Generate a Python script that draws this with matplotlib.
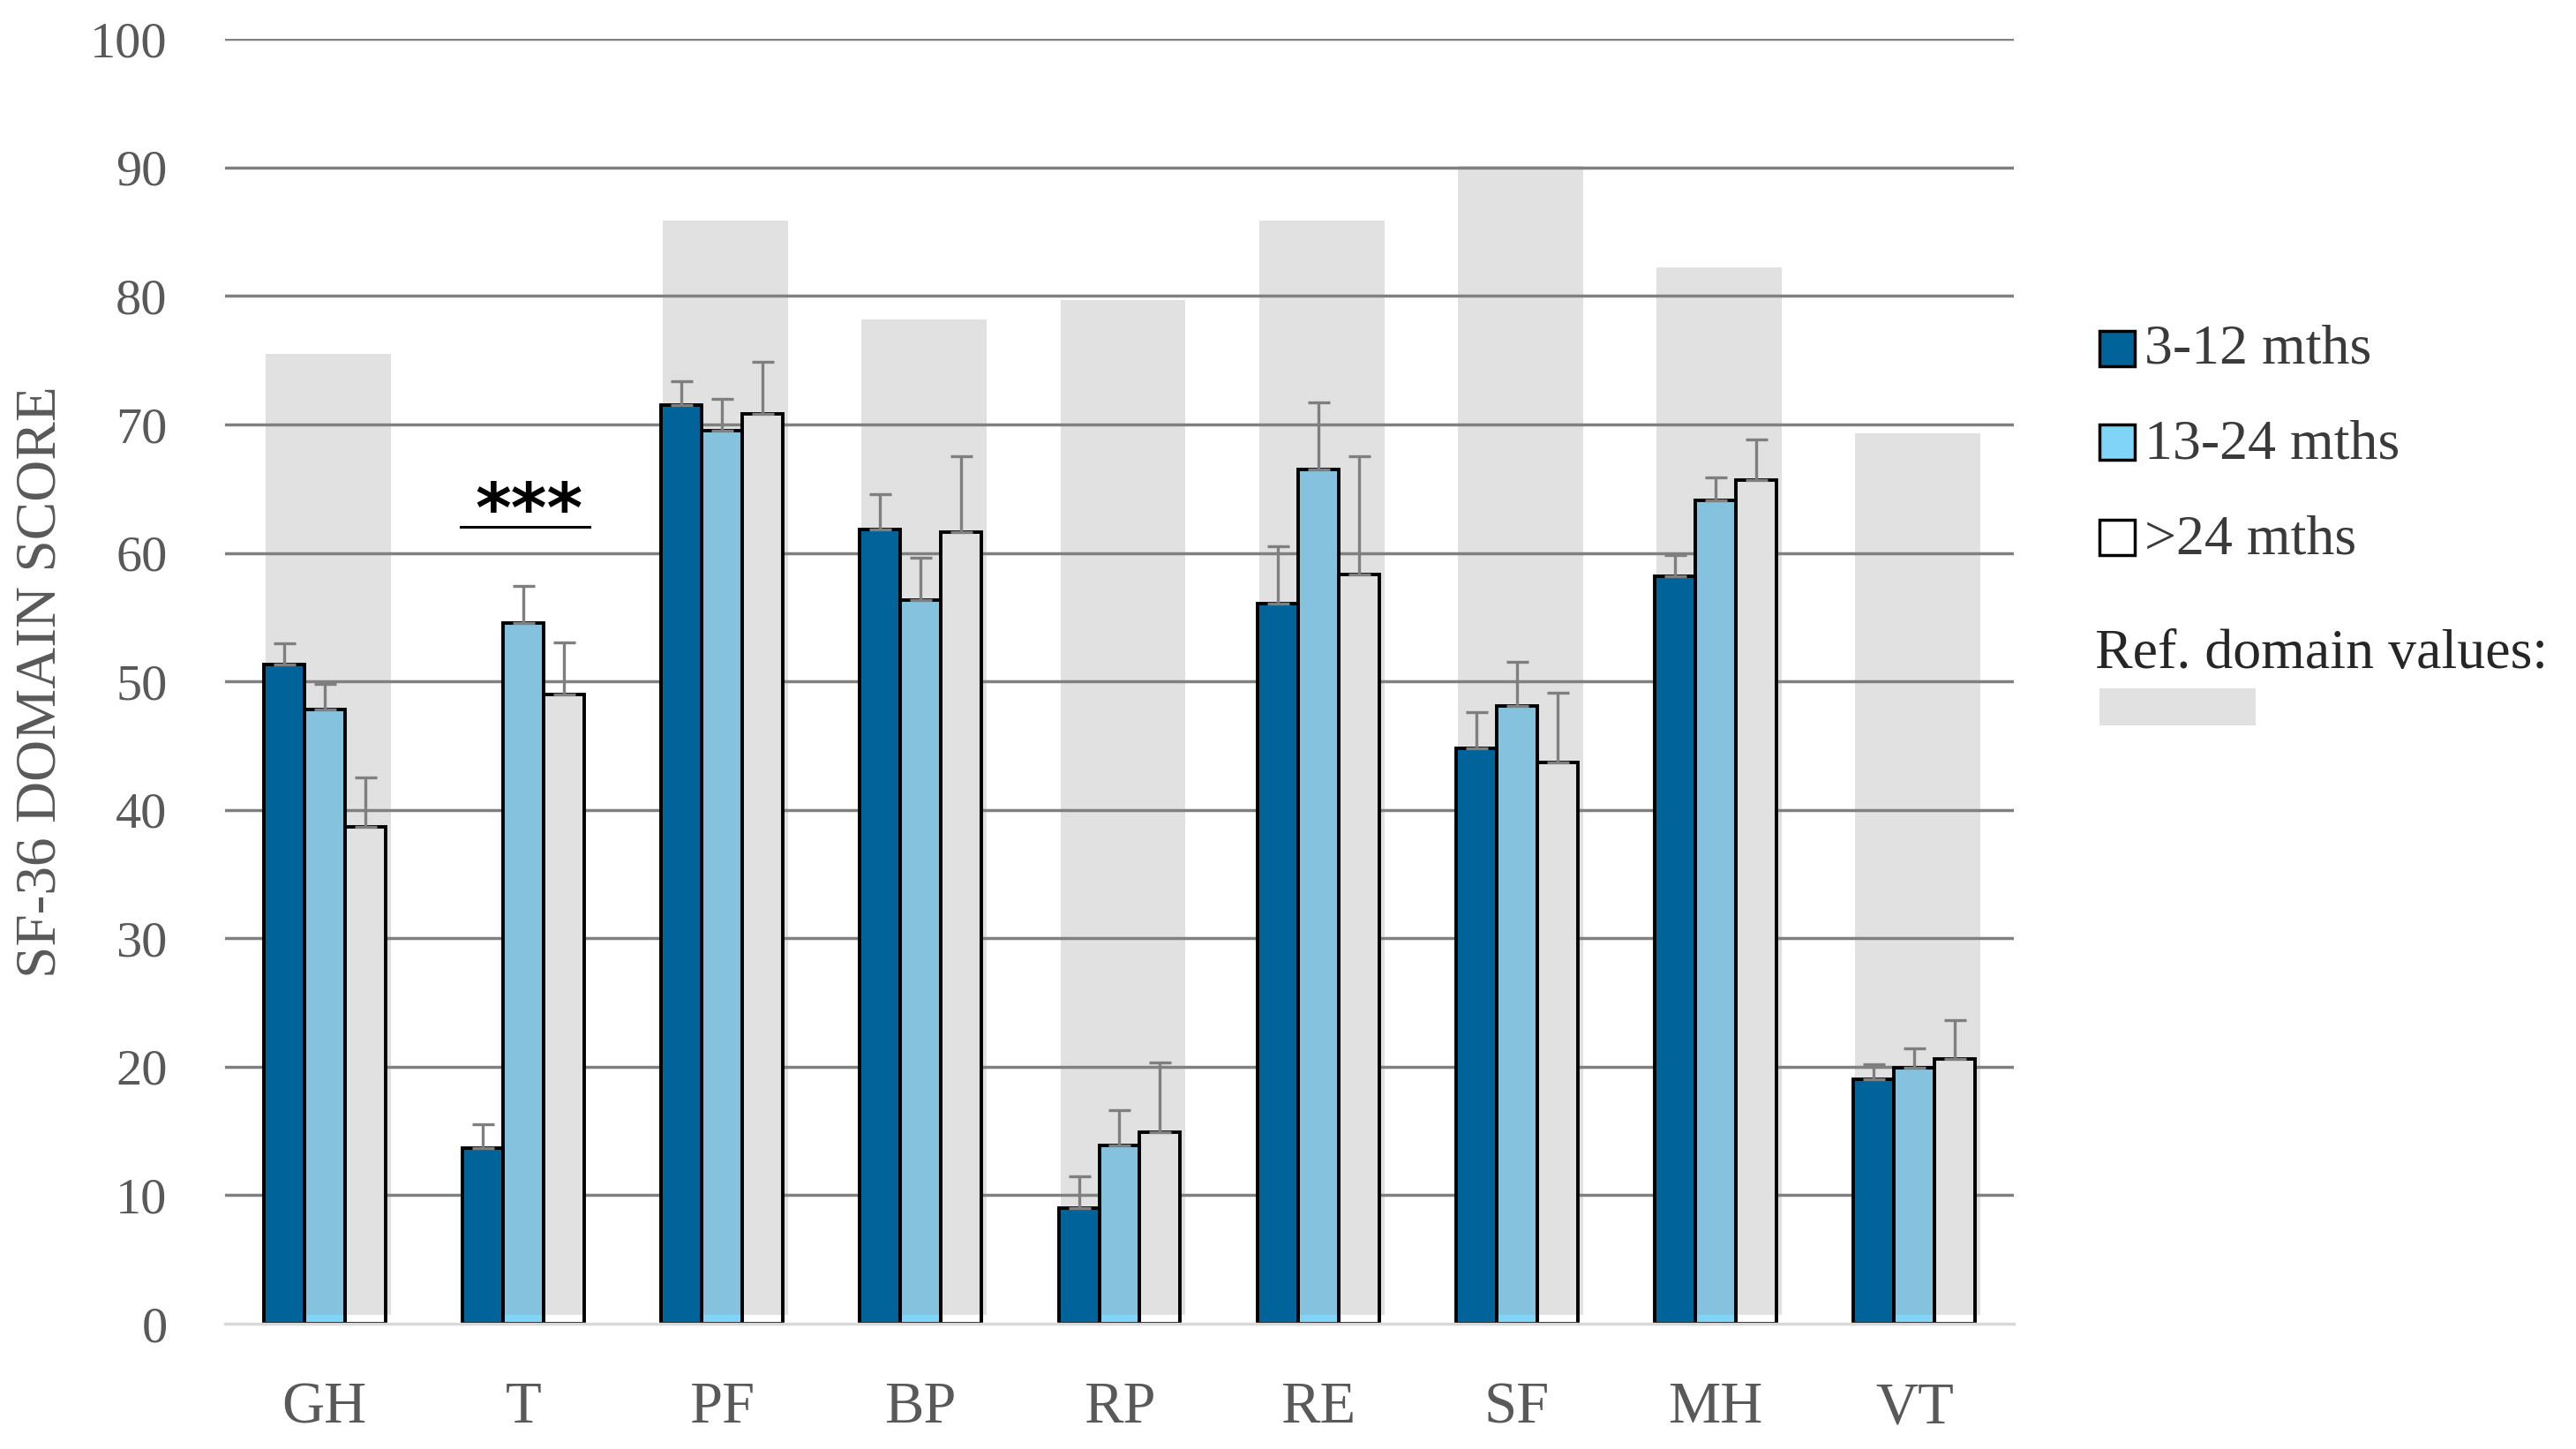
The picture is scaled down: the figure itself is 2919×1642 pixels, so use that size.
import numpy as np
import matplotlib.pyplot as plt
from matplotlib.patches import Rectangle

plt.rcParams['font.family'] = ['Liberation Serif', 'DejaVu Serif']

# SF-36 domains and reference values (grey background bars)
domains = ["GH", "T", "PF", "BP", "RP", "RE", "SF", "MH", "VT"]
ref_values = [75.5, np.nan, 85.9, 78.2, 79.7, 85.9, 90.1, 82.2, 69.3]

# group means and (upper) error bars
m3_12 = [51.3, 13.7, 71.5, 61.85, 9.0, 56.05, 44.8, 58.2, 19.0]
m3_12_err = [1.65, 1.8, 1.9, 2.75, 2.5, 4.45, 2.8, 1.6, 1.2]
m13_24 = [47.8, 54.55, 69.5, 56.3, 13.9, 66.5, 48.1, 64.1, 19.95]
m13_24_err = [2.0, 2.85, 2.5, 3.3, 2.7, 5.2, 3.4, 1.8, 1.45]
m24_plus = [38.7, 48.95, 70.8, 61.6, 14.9, 58.35, 43.7, 65.7, 20.6]
m24_plus_err = [3.8, 4.1, 4.1, 5.9, 5.4, 9.15, 5.4, 3.1, 3.0]

series_names = ["3-12 mths", "13-24 mths", ">24 mths"]
legend_faces = ["#00649a", "#80d4f8", "white"]

fig = plt.figure(figsize=(29.19, 16.42), dpi=100)
ax = fig.add_axes([255 / 2919, 142 / 1642, 2027 / 2919, (1500 - 44.3) / 1642])

x = np.arange(len(domains))
w = 0.204
base = 0.7

ref = np.array(ref_values)
ok = ~np.isnan(ref)
ax.bar(x[ok] + 0.018, ref[ok] - base, bottom=base, width=0.63,
       color="#e1e1e1", zorder=0.2)

series = [
    (m3_12, m3_12_err, "#00649a", "#00649a"),
    (m13_24, m13_24_err, "#84c2de", "#80d4f8"),
    (m24_plus, m24_plus_err, "#e1e1e1", "white"),
]
for k, (vals, errs, face, low) in enumerate(series):
    xs = x + (k - 1) * w
    vals = np.array(vals)
    ax.bar(xs, vals, w, color=face, edgecolor="none", zorder=2)
    ax.bar(xs, base, w, color=low, edgecolor="none", zorder=2.05)
    ax.bar(xs, vals, w, facecolor="none", edgecolor="black", lw=2.8, zorder=2.1)
    ax.errorbar(xs, vals, yerr=[np.zeros_like(vals), errs], fmt="none",
                ecolor="#7f7f7f", elinewidth=2.4, capsize=9, capthick=2.4,
                zorder=2.3)

# significance marker over T
ax.plot([1 - 0.314, 1 + 0.334], [62, 62], color="black", lw=2.2, zorder=3)
ax.text(1.03, 61.6, "***", ha="center", va="baseline", fontsize=56,
        family="DejaVu Sans", fontweight="bold", color="black", zorder=3)

ax.set_xlim(-0.5, len(domains) - 0.5)
ax.set_ylim(0, 100)
ax.set_yticks(range(0, 101, 10))
ax.set_xticks(x)
ax.set_xticklabels(domains)
ax.yaxis.grid(True, color="#808080", lw=2.5)
ax.set_axisbelow(True)
ax.get_ygridlines()[0].set_visible(False)
for s in ["top", "right", "left"]:
    ax.spines[s].set_visible(False)
ax.spines["bottom"].set_color("#d9d9d9")
ax.spines["bottom"].set_linewidth(2.5)
ax.tick_params(axis="both", length=0, colors="#595959")
ax.tick_params(axis="y", labelsize=42, pad=47)
ax.tick_params(axis="x", labelsize=48, pad=47)

ax.set_ylabel("SF-36 DOMAIN SCORE", fontsize=47, color="#595959")
ax.yaxis.set_label_coords(-0.088, 0.5)

# legend drawn by hand
sq = 40
for name, face, yc, yb in zip(series_names, legend_faces, [395, 501, 609], [412, 519, 627]):
    fig.add_artist(Rectangle((2379 / 2919, 1 - (yc + sq / 2) / 1642), sq / 2919, sq / 1642,
                             transform=fig.transFigure, facecolor=face,
                             edgecolor="black", lw=2.5))
    fig.text(2430 / 2919, 1 - yb / 1642, name, fontsize=46, color="#3a3a3a",
             va="baseline", ha="left")
fig.text(2374 / 2919, 1 - 757 / 1642, "Ref. domain values:", fontsize=46,
         color="#262626", va="baseline", ha="left")
fig.add_artist(Rectangle((2379 / 2919, 1 - 822 / 1642), 177 / 2919, 42 / 1642,
                         transform=fig.transFigure, facecolor="#e1e1e1",
                         edgecolor="none"))

fig.savefig("out.png", dpi=100)
